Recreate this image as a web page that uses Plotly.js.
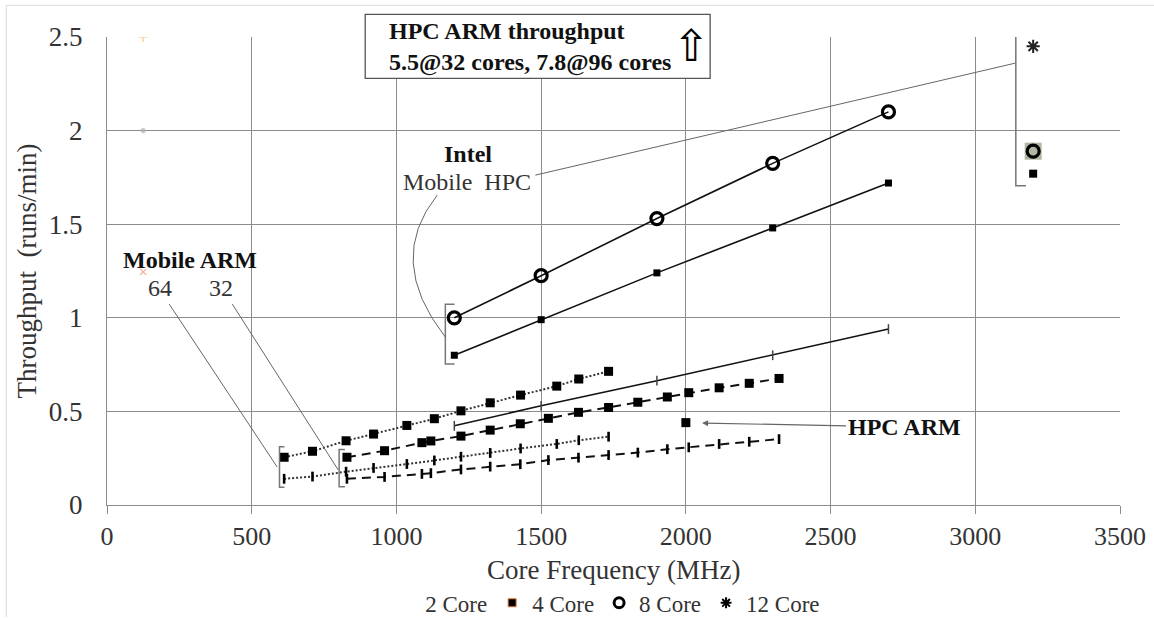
<!DOCTYPE html>
<html>
<head>
<meta charset="utf-8">
<script src="https://cdn.plot.ly/plotly-3.0.1.min.js"></script>
<style>html,body{margin:0;padding:0;background:#fff;}#chart{width:1154px;height:619px;}</style>
</head>
<body>
<div id="chart"></div>
<script>
// ---- Data ----
// Mobile ARM 64 (dotted lines)
const mob64Freq  = [612, 710, 826, 921, 1036, 1131, 1223, 1324, 1429, 1554, 1630, 1733];
const mob64Core2 = [0.140, 0.152, 0.178, 0.198, 0.219, 0.238, 0.258, 0.278, 0.302, 0.326, 0.346, 0.365];
const mob64Core4 = [0.255, 0.287, 0.343, 0.379, 0.425, 0.461, 0.503, 0.546, 0.587, 0.635, 0.673, 0.714];
// Mobile ARM 32 (dashed lines)
const mob32Freq  = [829, 959, 1088, 1119, 1223, 1324, 1428, 1525, 1629, 1733, 1834, 1936, 2010, 2115, 2219, 2322];
const mob32Core2 = [0.140, 0.150, 0.166, 0.170, 0.190, 0.205, 0.218, 0.240, 0.253, 0.267, 0.280, 0.298, 0.308, 0.326, 0.338, 0.352];
const mob32Core4 = [0.255, 0.290, 0.333, 0.342, 0.368, 0.400, 0.434, 0.463, 0.495, 0.521, 0.549, 0.577, 0.600, 0.626, 0.650, 0.676];
// Intel Mobile HPC (solid lines)
const intelFreq  = [1200, 1500, 1900, 2300, 2700];
const intelCore2 = [0.423, 0.530, 0.664, 0.800, 0.940];
const intelCore4 = [0.800, 0.990, 1.240, 1.480, 1.720];
const intelCore8 = [1.000, 1.225, 1.530, 1.825, 2.100];
// HPC ARM
const hpcFreq    = [3200];
const hpcCore4   = [1.77];
const hpcCore8   = [1.89];
const hpcCore12  = [2.45];
const hpcArmFreq = [2000];
const hpcArmVal  = [0.44];
// stray legend-marker points near the y axis
const strayFreq  = [125, 125, 125];
const strayVal   = [2.5, 2.0, 1.245];
// axis ticks
const xTicks = [0, 500, 1000, 1500, 2000, 2500, 3000, 3500];
const yTicks = [0, 0.5, 1, 1.5, 2, 2.5];
const legendNames = ['2 Core', '4 Core', '8 Core', '12 Core'];
const xTitle = 'Core Frequency (MHz)';
const yTitle = 'Throughput&nbsp; (runs/min)';

const FONT = 'Liberation Serif, Times New Roman, serif';
const GRID = '#8c8c8c';

function sq(size){ return {symbol:'square', size:size, color:'#000', line:{width:0}}; }
function tick(size){ return {symbol:'line-ns-open', size:size, color:'#000', line:{width:2.6, color:'#000'}}; }
function ring(size){ return {symbol:'circle-open', size:size, color:'#000', line:{width:3.2, color:'#000'}}; }

const traces = [
  // Mobile ARM 64, dotted
  {x:mob64Freq, y:mob64Core2, mode:'lines+markers', line:{color:'#333', width:2, dash:'2px,2px'}, marker:tick(7), showlegend:false},
  {x:mob64Freq, y:mob64Core4, mode:'lines+markers', line:{color:'#333', width:2, dash:'2px,2px'}, marker:sq(9), showlegend:false},
  // Mobile ARM 32, dashed
  {x:mob32Freq, y:mob32Core2, mode:'lines+markers', line:{color:'#111', width:2, dash:'9px,6px'}, marker:tick(7), showlegend:false},
  {x:mob32Freq, y:mob32Core4, mode:'lines+markers', line:{color:'#111', width:2, dash:'9px,6px'}, marker:sq(9), showlegend:false},
  // Intel, solid
  {x:intelFreq, y:intelCore2, mode:'lines+markers', line:{color:'#111', width:1.6}, marker:{symbol:'line-ns-open', size:7, color:'#444', line:{width:1.5, color:'#444'}}, showlegend:false},
  {x:intelFreq, y:intelCore4, mode:'lines+markers', line:{color:'#111', width:1.6}, marker:sq(7), showlegend:false},
  {x:intelFreq, y:intelCore8, mode:'lines+markers', line:{color:'#111', width:1.6}, marker:ring(12), showlegend:false},
  // HPC ARM
  {x:hpcFreq, y:hpcCore8, mode:'markers', marker:{symbol:'square', size:17, color:'#aeb8a2'}, showlegend:false},
  {x:hpcFreq, y:hpcCore8, mode:'markers', marker:ring(12), showlegend:false},
  {x:hpcFreq, y:hpcCore4, mode:'markers', marker:sq(8), showlegend:false},
  {x:hpcFreq, y:hpcCore12, mode:'markers', marker:{symbol:'asterisk-open', size:11, color:'#222', line:{width:2, color:'#222'}}, showlegend:false},
  {x:hpcArmFreq, y:hpcArmVal, mode:'markers', marker:sq(9), showlegend:false},
  // stray markers
  {x:strayFreq, y:strayVal, mode:'markers', marker:{symbol:['cross-thin-open','circle','x-thin-open'], size:[7,4,6], color:['#f2b35a','#b0b0b0','#ee8866'], line:{width:1.2, color:['#f2b35a','#b0b0b0','#ee8866']}}, showlegend:false},
  // legend entries
  {x:[null], y:[null], mode:'markers', name:legendNames[0], marker:{size:1, color:'rgba(0,0,0,0)'}},
  {x:[null], y:[null], mode:'markers', name:legendNames[1], marker:{symbol:'square', size:8, color:'#000', line:{width:1, color:'#e07b39'}}},
  {x:[null], y:[null], mode:'markers', name:legendNames[2], marker:{symbol:'circle-open', size:10, color:'#000', line:{width:3, color:'#000'}}},
  {x:[null], y:[null], mode:'markers', name:legendNames[3], marker:{symbol:'asterisk-open', size:9, color:'#000', line:{width:2, color:'#000'}}}
];

function bracket(x, top, bot, t){
  return {type:'path', xref:'x', yref:'y', path:`M ${x+t},${top} L ${x},${top} L ${x},${bot} L ${x+t},${bot}`, line:{color:'#777', width:1.5}};
}
function seg(x0,y0,x1,y1){
  return {type:'line', xref:'x', yref:'y', x0:x0, y0:y0, x1:x1, y1:y1, line:{color:'#666', width:1}};
}

const shapes = [
  bracket(1169, 1.073, 0.753, 32),
  bracket(3140, 2.509, 1.705, 35),
  bracket(596, 0.311, 0.095, 17),
  bracket(802, 0.297, 0.098, 20),
  seg(215, 1.073, 588, 0.203),
  seg(433, 1.073, 799, 0.187),
  seg(1480, 1.762, 3137, 2.36),
  {type:'path', xref:'x', yref:'y', path:'M 1141,1.655 Q 961,1.308 1169,0.897', line:{color:'#666', width:1}},
  // annotation box
  {type:'rect', xref:'paper', yref:'paper', x0:0.2549, x1:0.5954, y0:0.9118, y1:1.0485, fillcolor:'#fff', line:{color:'#555', width:1.3}, layer:'above'},
  // outer light frame (top & left)
  {type:'line', xref:'paper', yref:'paper', x0:-0.0994, x1:1.04, y0:1.0677, y1:1.0677, line:{color:'#dcdcdc', width:1}},
  {type:'line', xref:'paper', yref:'paper', x0:-0.0994, x1:-0.0994, y0:1.0677, y1:-0.24, line:{color:'#dcdcdc', width:1}}
];

const annotations = [
  {xref:'paper', yref:'paper', x:0.2766, y:0.978, xanchor:'left', yanchor:'middle', align:'left', showarrow:false,
   text:'<b>HPC ARM throughput</b><br><b>5.5@32 cores, 7.8@96 cores</b>', font:{family:FONT, size:24, color:'#111'}},
  {xref:'paper', yref:'paper', x:0.5766, y:0.982, xanchor:'center', yanchor:'middle', showarrow:false,
   text:'\u21E7', font:{family:'DejaVu Sans', size:44, color:'#000'}},
  {xref:'x', yref:'y', x:1248, y:1.874, showarrow:false, text:'<b>Intel</b>', font:{family:FONT, size:24, color:'#111'}},
  {xref:'x', yref:'y', x:1245, y:1.725, showarrow:false, text:'Mobile&nbsp; HPC', font:{family:FONT, size:24, color:'#333'}},
  {xref:'x', yref:'y', x:288, y:1.308, showarrow:false, text:'<b>Mobile ARM</b>', font:{family:FONT, size:24, color:'#111'}},
  {xref:'x', yref:'y', x:184, y:1.159, showarrow:false, text:'64', font:{family:FONT, size:24, color:'#333'}},
  {xref:'x', yref:'y', x:395, y:1.159, showarrow:false, text:'32', font:{family:FONT, size:24, color:'#333'}},
  {xref:'x', yref:'y', x:2056, y:0.438, showarrow:true, axref:'pixel', ayref:'pixel', ax:202, ay:4,
   arrowhead:2, arrowsize:1, arrowwidth:1.2, arrowcolor:'#666', standoff:0,
   text:'<b>HPC ARM</b>', font:{family:FONT, size:24, color:'#111'}},
  // x axis title, placed tight under the tick labels
  {xref:'paper', yref:'paper', x:0.5, y:-0.1388, xanchor:'center', yanchor:'middle', showarrow:false,
   text:xTitle, font:{family:FONT, size:27, color:'#333'}}
];

const layout = {
  width:1154, height:619,
  margin:{l:107, r:34, t:37, b:114, autoexpand:false},
  paper_bgcolor:'#fff', plot_bgcolor:'#fff',
  font:{family:FONT, color:'#333'},
  xaxis:{range:[0,3500], tickvals:xTicks, showgrid:true, gridcolor:GRID, gridwidth:1,
         zeroline:false, showline:true, linecolor:GRID, linewidth:1,
         ticks:'outside', ticklen:8, tickcolor:GRID, tickwidth:1, automargin:false,
         tickfont:{family:FONT, size:26, color:'#333'},
         title:{text:''}},
  yaxis:{range:[0,2.5], tickvals:yTicks, showgrid:true, gridcolor:GRID, gridwidth:1,
         zeroline:false, showline:true, linecolor:GRID, linewidth:1, ticks:'', automargin:false,
         ticklabelstandoff:18,
         tickfont:{family:FONT, size:27, color:'#333'},
         title:{text:yTitle, font:{family:FONT, size:27, color:'#333'}, standoff:4}},
  legend:{orientation:'h', x:0.2746, xanchor:'left', y:-0.209, yanchor:'middle',
          font:{family:FONT, size:23, color:'#333'}, bgcolor:'rgba(0,0,0,0)', itemclick:false},
  showlegend:true,
  shapes:shapes,
  annotations:annotations
};

Plotly.newPlot('chart', traces, layout, {displayModeBar:false, staticPlot:true});
</script>
</body>
</html>
